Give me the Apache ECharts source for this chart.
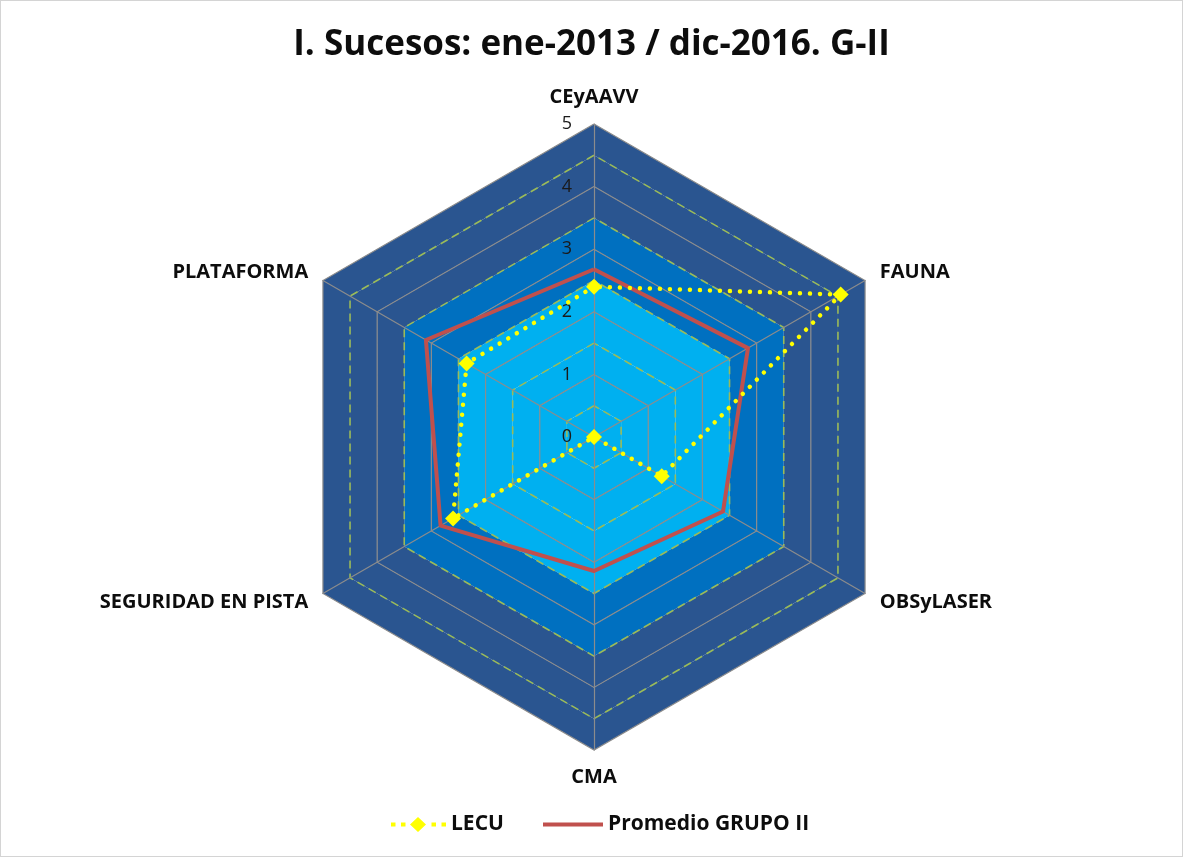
<!DOCTYPE html>
<html>
<head>
<meta charset="utf-8">
<title>I. Sucesos: ene-2013 / dic-2016. G-II</title>
<script src="https://cdn.jsdelivr.net/npm/echarts@6/dist/echarts.min.js"></script>
<style>
    html, body { margin: 0; padding: 0; background: #fff; }
    #chart { width: 1183px; height: 857px; box-sizing: border-box; border: 1px solid #d4d4d4; }
</style>
</head>
<body>
<div id="chart"></div>
<script>
// ejes, en orden antihorario empezando arriba (asi los coloca echarts)
var categories = ['CEyAAVV', 'PLATAFORMA', 'SEGURIDAD EN PISTA', 'CMA', 'OBSyLASER', 'FAUNA']
var lecu = [2.4, 2.35, 2.6, 0, 1.25, 4.55]
var promedioGrupoII = [2.68, 3.1, 2.83, 2.14, 2.38, 2.84]
var tickLabels = ['0', '1', '2', '3', '4', '5']
var maxValue = 5

var FONT = '"Open Sans", "DejaVu Sans", sans-serif'

// bandas de fondo, una por cada anillo de 0.5 (de dentro a fuera)
var CYAN = '#00b0f0', MID = '#0070c0', NAVY = '#2a5590'
var bandColors = [CYAN, CYAN, CYAN, CYAN, CYAN, MID, MID, NAVY, NAVY, NAVY]

var indicatorsHalf = categories.map(function (c) {
    return { name: c, min: 0, max: maxValue }
})
var indicatorsInt = categories.map(function (c, i) {
    var ind = { name: c, min: 0, max: maxValue }
    if (i === 0) {
        // solo el eje de arriba lleva numeros
        ind.axisLabel = {
            show: true,
            color: '#1a1a1a',
            fontFamily: FONT,
            fontSize: 18,
            margin: 22,
            formatter: function (v) { return tickLabels[Math.round(v)] }
        }
    }
    return ind
})

var legendText = { fontFamily: FONT, fontSize: 21, fontWeight: 'bold', color: '#0d0d0d' }

var chart = echarts.init(document.getElementById('chart'))

chart.setOption({
    animation: false,
    title: {
        text: 'I. Sucesos: ene-2013 / dic-2016. G-II',
        left: 'center',
        top: 22,
        textStyle: { fontFamily: FONT, fontSize: 35, fontWeight: 'bold', color: '#0d0d0d' }
    },
    legend: [{
        left: 385,
        top: 808,
        itemWidth: 55,
        itemHeight: 15,
        itemGap: 8,
        data: [{
            name: 'LECU',
            icon: 'path://M0,5.5h4.5v4h-4.5z M10,5.5h4.5v4h-4.5z M19,7.5L27,0L35,7.5L27,15z M40.5,5.5h4.5v4h-4.5z M50.5,5.5h4.5v4h-4.5z'
        }],
        textStyle: legendText
    }, {
        left: 537,
        top: 808,
        itemWidth: 60,
        itemHeight: 4,
        data: [{ name: 'Promedio GRUPO II', icon: 'rect' }],
        textStyle: legendText
    }],
    radar: [{
        // bandas de color + lineas discontinuas cada 0.5
        center: [593, 436],
        radius: 313,
        startAngle: 90,
        shape: 'polygon',
        splitNumber: 10,
        indicator: indicatorsHalf,
        axisName: { show: false },
        axisLine: { show: false },
        axisLabel: { show: false },
        splitArea: { show: true, areaStyle: { color: bandColors } },
        splitLine: {
            show: true,
            lineStyle: { color: ['rgba(0,0,0,0)', '#9bbb59'], type: [8, 5], width: 1.6 }
        }
    }, {
        // rejilla gris en los enteros, nombres de ejes y numeros
        center: [593, 436],
        radius: 313,
        startAngle: 90,
        shape: 'polygon',
        splitNumber: 5,
        indicator: indicatorsInt,
        nameGap: 17,
        axisName: {
            color: '#0d0d0d',
            fontFamily: FONT,
            fontSize: 20,
            fontWeight: 'bold'
        },
        axisLine: { show: true, lineStyle: { color: '#8c8c8c', width: 1.2 } },
        axisLabel: { show: false },
        splitArea: { show: false },
        splitLine: { show: true, lineStyle: { color: '#8c8c8c', width: 1.2 } }
    }],
    series: [{
        type: 'radar',
        radarIndex: 1,
        z: 3,
        data: [{
            name: 'Promedio GRUPO II',
            value: promedioGrupoII,
            symbol: 'none',
            lineStyle: { color: '#c0504d', width: 4 },
            itemStyle: { color: '#c0504d' }
        }, {
            name: 'LECU',
            value: lecu,
            symbol: 'diamond',
            symbolSize: 16,
            lineStyle: { color: '#ffff00', width: 4.5, type: [0.01, 10], cap: 'round' },
            itemStyle: { color: '#ffff00' }
        }]
    }]
})
</script>
</body>
</html>
